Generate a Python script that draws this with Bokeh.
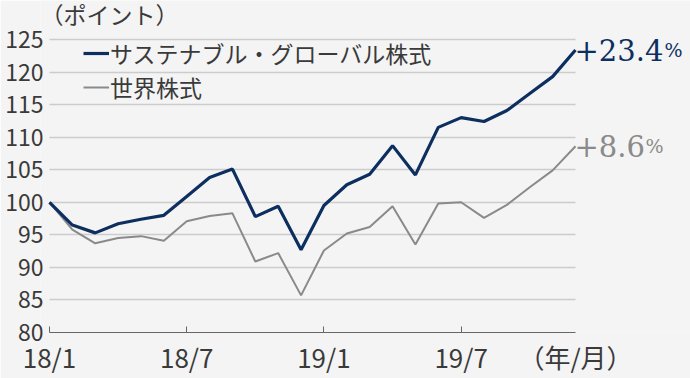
from bokeh.plotting import figure
from bokeh.models import (Range1d, FixedTicker, Label, Legend, LegendItem,
                          ColumnDataSource)
from bokeh.embed import file_html
from bokeh.resources import INLINE

# ---- data -------------------------------------------------------------
months = list(range(24))  # 2018/1 .. 2019/12
sustainable = [100.0, 96.5, 95.3, 96.7, 97.4, 98.0, 100.9, 103.8, 105.1, 97.8,
               99.4, 92.7, 99.5, 102.7, 104.3, 108.7, 104.2, 111.5, 113.0, 112.4,
               114.1, 116.7, 119.3, 123.4]
world = [100.0, 95.8, 93.7, 94.5, 94.8, 94.1, 97.1, 97.9, 98.3, 90.9,
         92.2, 85.7, 92.6, 95.2, 96.2, 99.4, 93.5, 99.8, 100.0, 97.6,
         99.6, 102.3, 104.9, 108.6]
series_names = ["サステナブル・グローバル株式", "世界株式"]
x_tick_pos = [0, 6, 12, 18]
x_tick_labels = ["18/1", "18/7", "19/1", "19/7"]
y_ticks = [80, 85, 90, 95, 100, 105, 110, 115, 120, 125]
y_unit = "（ポイント）"
x_unit = "（年/月）"

NAVY = "#0d2f5f"
GRAY = "#8a8a8a"
TEXT = "#3a3a3a"
BG = "#f4f4f4"
JP = "Noto Sans CJK JP"

W, H = 690, 378
FRAME_LEFT, BOTTOM = 40, 46
PLOT_LEFT_PX = 49     # where the first month sits
PLOT_RIGHT_PX = 575   # where the last month sits
PLOT_TOP_PX = 39      # where 125 sits

x0, x1 = months[0], months[-1]
y0, y1 = y_ticks[0], y_ticks[-1]
px_per_x = (PLOT_RIGHT_PX - PLOT_LEFT_PX) / (x1 - x0)
px_per_y = (H - BOTTOM - PLOT_TOP_PX) / (y1 - y0)
x_start = x0 - (PLOT_LEFT_PX - FRAME_LEFT) / px_per_x
x_end = x1 + (W - PLOT_RIGHT_PX) / px_per_x
y_end = y1 + PLOT_TOP_PX / px_per_y

src = ColumnDataSource(dict(m=months, s=sustainable, w=world))

p = figure(width=W, height=H, output_backend="svg", toolbar_location=None,
           x_range=Range1d(x_start, x_end), y_range=Range1d(y0, y_end),
           min_border_left=FRAME_LEFT, min_border_right=0, min_border_top=0,
           min_border_bottom=BOTTOM)
p.background_fill_color = BG
p.border_fill_color = BG
p.outline_line_color = None

# x axis: ticks drawn as minor ticks, unit text as a label at the last month
p.xaxis.ticker = FixedTicker(ticks=x_tick_pos + [x1], minor_ticks=x_tick_pos)
overrides = {t: l for t, l in zip(x_tick_pos, x_tick_labels)}
overrides[x1] = x_unit
p.xaxis.major_label_overrides = overrides
p.xaxis.bounds = (x0, x1)
p.xaxis.axis_line_color = "#666666"
p.xaxis.major_tick_line_color = None
p.xaxis.minor_tick_line_color = "#666666"
p.xaxis.minor_tick_in = 6
p.xaxis.minor_tick_out = 0
p.xaxis.major_tick_in = 0
p.xaxis.major_tick_out = 0
p.xaxis.major_label_text_font = JP
p.xaxis.major_label_text_font_size = "26px"
p.xaxis.major_label_text_color = TEXT
p.xaxis.major_label_standoff = 5

p.yaxis.ticker = FixedTicker(ticks=y_ticks)
p.yaxis.axis_line_color = None
p.yaxis.major_tick_line_color = None
p.yaxis.minor_tick_line_color = None
p.yaxis.major_tick_out = 0
p.yaxis.major_tick_in = 0
p.yaxis.major_label_text_font = JP
p.yaxis.major_label_text_font_size = "23px"
p.yaxis.major_label_text_color = TEXT
p.yaxis.major_label_standoff = -3

p.xgrid.grid_line_color = None
grid = p.ygrid[0]
if "cross_bounds" in grid.properties():
    grid.cross_bounds = (x0, x1)
    grid.grid_line_color = "#cccccc"
    grid.grid_line_width = 1.5
else:
    grid.grid_line_color = None
    p.segment(x0=[x0] * len(y_ticks), x1=[x1] * len(y_ticks), y0=y_ticks, y1=y_ticks,
              line_color="#cccccc", line_width=1.5)

# lines
r_w = p.line("m", "w", source=src, line_color=GRAY, line_width=2)
r_s = p.line("m", "s", source=src, line_color=NAVY, line_width=3.2)

legend = Legend(items=[LegendItem(label=series_names[0], renderers=[r_s]),
                       LegendItem(label=series_names[1], renderers=[r_w])],
                location=(43, 228), orientation="vertical")
legend.background_fill_alpha = 0
legend.border_line_alpha = 0
legend.padding = 0
legend.margin = 0
legend.spacing = -4
legend.glyph_width = 26
legend.glyph_height = 20
legend.label_standoff = 1
legend.label_text_font = JP
legend.label_text_font_size = "23px"
legend.label_text_color = TEXT
p.add_layout(legend)

# end labels
pct_offset = {"+23.4": 89, "+8.6": 70}
for vals, col in [(sustainable, NAVY), (world, GRAY)]:
    txt = f"{vals[-1] - 100:+.1f}"
    p.add_layout(Label(x=months[-1], y=vals[-1], text=txt, x_offset=-1, y_offset=0,
                       text_font="DejaVu Serif", text_font_size="29px",
                       text_color=col, text_baseline="alphabetic"))
    p.add_layout(Label(x=months[-1], y=vals[-1], text="%", x_offset=pct_offset.get(txt, 89),
                       y_offset=0, text_font="DejaVu Serif", text_font_size="19px",
                       text_color=col, text_baseline="alphabetic"))

# y unit label (top-left)
p.add_layout(Label(x=0, y=H - BOTTOM - 13, x_units="screen", y_units="screen", text=y_unit,
                   text_font=JP, text_font_size="23px", text_color=TEXT,
                   text_baseline="middle"))

open("out.html", "w").write(file_html(p, INLINE))
